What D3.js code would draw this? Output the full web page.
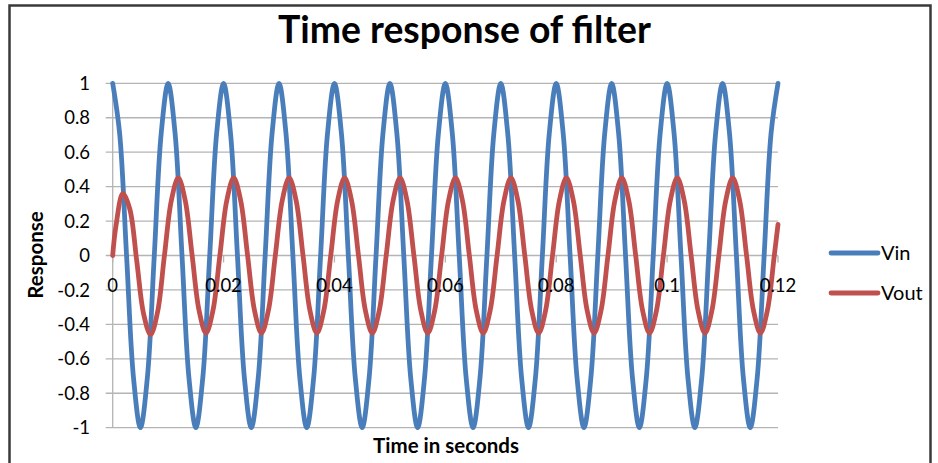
<!DOCTYPE html>
<html><head><meta charset="utf-8">
<script src="https://cdn.jsdelivr.net/npm/d3@7"></script>
<style>
html,body{margin:0;padding:0;background:#fff;}
svg{display:block;}
text{font-family:Lato,"Open Sans",sans-serif;fill:#000;}
</style></head>
<body>
<svg id="chart" width="938" height="463"></svg>
<script>
// ---- data ----
const title = "Time response of filter";
const xTitle = "Time in seconds";
const yTitle = "Response";
const seriesNames = ["Vin", "Vout"];
const seriesColors = ["#4a7ebb", "#c0504d"];

const vinTime = [
  0,0.00125,0.0025,0.00375,0.005,0.00625,0.0075,0.00875,
  0.01,0.01125,0.0125,0.01375,0.015,0.01625,0.0175,0.01875,
  0.02,0.02125,0.0225,0.02375,0.025,0.02625,0.0275,0.02875,
  0.03,0.03125,0.0325,0.03375,0.035,0.03625,0.0375,0.03875,
  0.04,0.04125,0.0425,0.04375,0.045,0.04625,0.0475,0.04875,
  0.05,0.05125,0.0525,0.05375,0.055,0.05625,0.0575,0.05875,
  0.06,0.06125,0.0625,0.06375,0.065,0.06625,0.0675,0.06875,
  0.07,0.07125,0.0725,0.07375,0.075,0.07625,0.0775,0.07875,
  0.08,0.08125,0.0825,0.08375,0.085,0.08625,0.0875,0.08875,
  0.09,0.09125,0.0925,0.09375,0.095,0.09625,0.0975,0.09875,
  0.1,0.10125,0.1025,0.10375,0.105,0.10625,0.1075,0.10875,
  0.11,0.11125,0.1125,0.11375,0.115,0.11625,0.1175,0.11875,
  0.12];
const vinValues = [
  1,0.71,0,-0.71,-1,-0.71,0,0.71,
  1,0.71,0,-0.71,-1,-0.71,0,0.71,
  1,0.71,0,-0.71,-1,-0.71,0,0.71,
  1,0.71,0,-0.71,-1,-0.71,0,0.71,
  1,0.71,0,-0.71,-1,-0.71,0,0.71,
  1,0.71,0,-0.71,-1,-0.71,0,0.71,
  1,0.71,0,-0.71,-1,-0.71,0,0.71,
  1,0.71,0,-0.71,-1,-0.71,0,0.71,
  1,0.71,0,-0.71,-1,-0.71,0,0.71,
  1,0.71,0,-0.71,-1,-0.71,0,0.71,
  1,0.71,0,-0.71,-1,-0.71,0,0.71,
  1,0.71,0,-0.71,-1,-0.71,0,0.71,
  1];

const voutTime = [
  0,
  0.00058,0.00183,0.00308,0.00433,0.00558,0.00683,0.00808,0.00933,
  0.01058,0.01183,0.01308,0.01433,0.01558,0.01683,0.01808,0.01933,
  0.02058,0.02183,0.02308,0.02433,0.02558,0.02683,0.02808,0.02933,
  0.03058,0.03183,0.03308,0.03433,0.03558,0.03683,0.03808,0.03933,
  0.04058,0.04183,0.04308,0.04433,0.04558,0.04683,0.04808,0.04933,
  0.05058,0.05183,0.05308,0.05433,0.05558,0.05683,0.05808,0.05933,
  0.06058,0.06183,0.06308,0.06433,0.06558,0.06683,0.06808,0.06933,
  0.07058,0.07183,0.07308,0.07433,0.07558,0.07683,0.07808,0.07933,
  0.08058,0.08183,0.08308,0.08433,0.08558,0.08683,0.08808,0.08933,
  0.09058,0.09183,0.09308,0.09433,0.09558,0.09683,0.09808,0.09933,
  0.10058,0.10183,0.10308,0.10433,0.10558,0.10683,0.10808,0.10933,
  0.11058,0.11183,0.11308,0.11433,0.11558,0.11683,0.11808,0.11933,
  0.12];
const voutValues = [
  0,
  0.17,0.36,0.27,-0.03,-0.34,-0.46,-0.33,0,
  0.32,0.45,0.32,0,-0.32,-0.45,-0.32,0,
  0.32,0.45,0.32,0,-0.32,-0.45,-0.32,0,
  0.32,0.45,0.32,0,-0.32,-0.45,-0.32,0,
  0.32,0.45,0.32,0,-0.32,-0.45,-0.32,0,
  0.32,0.45,0.32,0,-0.32,-0.45,-0.32,0,
  0.32,0.45,0.32,0,-0.32,-0.45,-0.32,0,
  0.32,0.45,0.32,0,-0.32,-0.45,-0.32,0,
  0.32,0.45,0.32,0,-0.32,-0.45,-0.32,0,
  0.32,0.45,0.32,0,-0.32,-0.45,-0.32,0,
  0.32,0.45,0.32,0,-0.32,-0.45,-0.32,0,
  0.32,0.45,0.32,0,-0.32,-0.45,-0.32,0,
  0.18];

const xTicks = [0, 0.02, 0.04, 0.06, 0.08, 0.1, 0.12];
const xTickLabels = ["0", "0.02", "0.04", "0.06", "0.08", "0.1", "0.12"];
const yTicks = [1, 0.8, 0.6, 0.4, 0.2, 0, -0.2, -0.4, -0.6, -0.8, -1];
const yTickLabels = ["1", "0.8", "0.6", "0.4", "0.2", "0", "-0.2", "-0.4", "-0.6", "-0.8", "-1"];

// ---- drawing ----
const svg = d3.select("#chart");
const plot = {left: 112.7, right: 778, top: 83.3, bottom: 427.7};
const x = d3.scaleLinear().domain([0, 0.12]).range([plot.left, plot.right]);
const y = d3.scaleLinear().domain([-1, 1]).range([plot.bottom, plot.top]);
const gridColor = "#b4b4b4";

// outer border
svg.append("rect").attr("x", 9.5).attr("y", 5.5).attr("width", 921).attr("height", 470)
  .attr("fill", "#fff").attr("stroke", "#3a3a3a").attr("stroke-width", 2.5);

// title
const t = svg.append("text").attr("x", 464.5).attr("y", 43).attr("text-anchor", "middle")
  .attr("font-weight", "bold").attr("font-size", 32).text(title);
const tw = t.node().getComputedTextLength();
t.attr("font-size", 32 * 373 / tw);

// gridlines (horizontal) with outside tick
svg.append("g").selectAll("line").data(yTicks).join("line")
  .attr("x1", plot.left - 7).attr("x2", plot.right)
  .attr("y1", d => y(d)).attr("y2", d => y(d))
  .attr("stroke", gridColor).attr("stroke-width", 1.3);

// y axis line
svg.append("line").attr("x1", plot.left).attr("x2", plot.left)
  .attr("y1", plot.top).attr("y2", plot.bottom)
  .attr("stroke", gridColor).attr("stroke-width", 1.3);

// x axis ticks at y=0
svg.append("g").selectAll("line").data(xTicks).join("line")
  .attr("x1", d => x(d)).attr("x2", d => x(d))
  .attr("y1", y(0)).attr("y2", y(0) + 7)
  .attr("stroke", gridColor).attr("stroke-width", 1.3);

// y tick labels
svg.append("g").selectAll("text").data(yTicks).join("text")
  .attr("x", 90).attr("y", d => y(d)).attr("dy", "0.36em")
  .attr("text-anchor", "end").attr("font-size", 18.5)
  .text((d, i) => yTickLabels[i]);

// series lines
const line = d3.line().x(d => x(d[0])).y(d => y(d[1])).curve(d3.curveCatmullRom.alpha(0.5));
const vinData = vinTime.map((tv, i) => [tv, vinValues[i]]);
const voutData = voutTime.map((tv, i) => [tv, voutValues[i]]);
[vinData, voutData].forEach((data, i) => {
  svg.append("path").datum(data).attr("d", line)
    .attr("fill", "none").attr("stroke", seriesColors[i])
    .attr("stroke-width", 4.8).attr("stroke-linejoin", "round").attr("stroke-linecap", "round");
});

// x tick labels (drawn over the lines, like the original)
svg.append("g").selectAll("text").data(xTicks).join("text")
  .attr("x", d => x(d)).attr("y", 292).attr("text-anchor", "middle")
  .attr("font-size", 18.5)
  .text((d, i) => xTickLabels[i]);

// axis titles
svg.append("text").attr("x", 446).attr("y", 453).attr("text-anchor", "middle")
  .attr("font-weight", "bold").attr("font-size", 20.5).text(xTitle);
svg.append("text").attr("transform", "translate(43,255) rotate(-90)")
  .attr("text-anchor", "middle").attr("font-weight", "bold").attr("font-size", 20.5).text(yTitle);

// legend
const legY = [253, 293];
seriesNames.forEach((name, i) => {
  svg.append("line").attr("x1", 831).attr("x2", 878).attr("y1", legY[i]).attr("y2", legY[i])
    .attr("stroke", seriesColors[i]).attr("stroke-width", 4.8).attr("stroke-linecap", "round");
  svg.append("text").attr("x", 881).attr("y", legY[i]).attr("dy", "0.36em")
    .attr("font-size", 20).text(name);
});
</script>
</body></html>
